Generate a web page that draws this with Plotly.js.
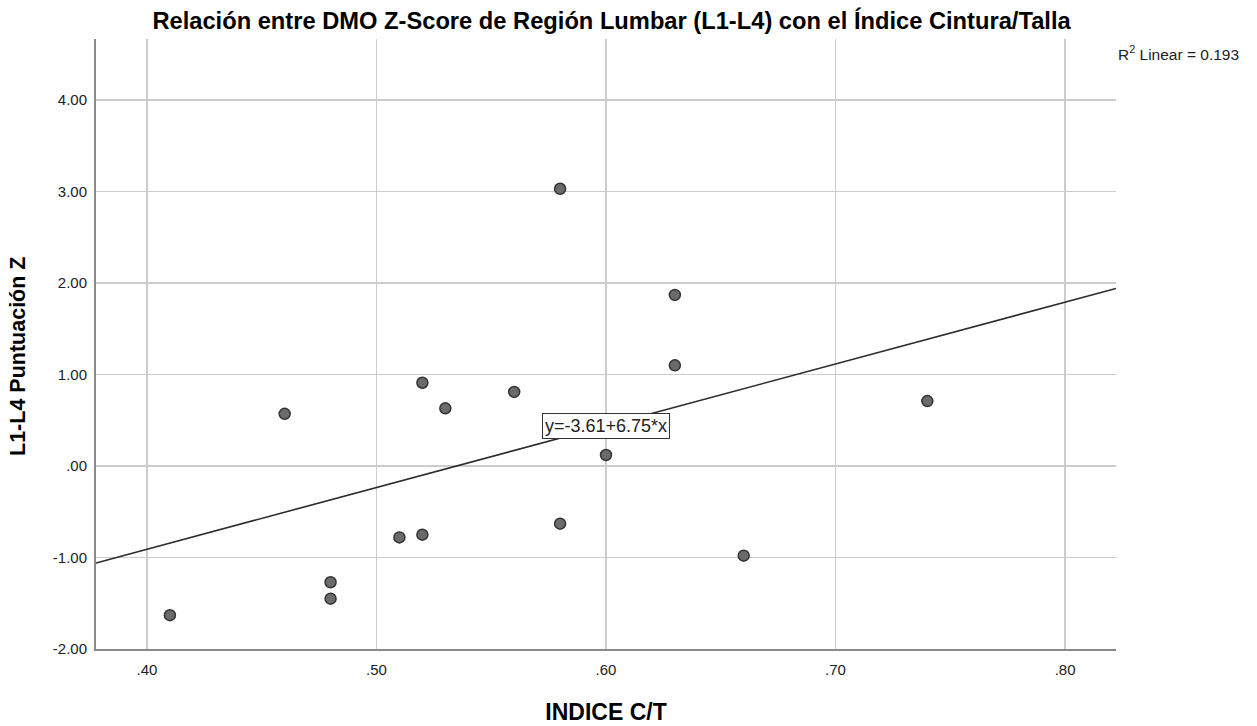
<!DOCTYPE html>
<html>
<head>
<meta charset="utf-8">
<script src="https://cdn.plot.ly/plotly-3.0.1.min.js"></script>
<style>html,body{margin:0;padding:0;background:#fff;}#chart{width:1257px;height:726px;}</style>
</head>
<body>
<div id="chart"></div>
<script>
// Data
const indiceCT = [0.41, 0.46, 0.48, 0.48, 0.51, 0.52, 0.52, 0.53, 0.56, 0.58, 0.58, 0.60, 0.63, 0.63, 0.66, 0.74];
const puntuacionZ = [-1.63, 0.57, -1.27, -1.45, -0.78, -0.75, 0.91, 0.63, 0.81, 3.03, -0.63, 0.12, 1.87, 1.10, -0.98, 0.71];
const fitIntercept = -3.61;
const fitSlope = 6.75;
const rSquared = 0.193;
const xTickVals = [0.40, 0.50, 0.60, 0.70, 0.80];
const xTickText = ['.40', '.50', '.60', '.70', '.80'];
const yTickVals = [-2, -1, 0, 1, 2, 3, 4];
const yTickText = ['-2.00', '-1.00', '.00', '1.00', '2.00', '3.00', '4.00'];

const xRange = [0.3778, 0.8222];
const yRange = [-2, 4.667];
const fitX = xRange.slice();
const fitY = fitX.map(x => fitIntercept + fitSlope * x);

const font = 'Liberation Sans, Arial, sans-serif';

const traces = [
  {
    x: fitX, y: fitY, mode: 'lines', type: 'scatter',
    line: {color: '#2b2b2b', width: 1.6}, hoverinfo: 'skip', showlegend: false
  },
  {
    x: indiceCT, y: puntuacionZ, mode: 'markers', type: 'scatter',
    marker: {size: 11, color: '#6b6b6b', line: {color: '#333333', width: 1.5}},
    showlegend: false
  }
];

const layout = {
  width: 1257, height: 726,
  margin: {l: 96, r: 141, t: 39, b: 77},
  paper_bgcolor: '#ffffff', plot_bgcolor: '#ffffff',
  font: {family: font, color: '#222222', size: 15},
  title: {
    text: 'Relación entre DMO Z-Score de Región Lumbar (L1-L4) con el Índice Cintura/Talla',
    font: {family: font, size: 23.7, color: '#000000', weight: 'bold'},
    x: 0.4865, xref: 'container', y: 0.972, yref: 'container', xanchor: 'center', yanchor: 'middle'
  },
  xaxis: {
    range: xRange, tickvals: xTickVals, ticktext: xTickText,
    showgrid: true, gridcolor: '#cccccc', gridwidth: 1.5,
    showline: true, linecolor: '#8a8a8a', linewidth: 2, mirror: false,
    zeroline: false, ticks: '', tickfont: {size: 15, color: '#222'},
    ticklabelstandoff: 6,
    title: {text: 'INDICE C/T', font: {family: font, size: 23, color: '#000', weight: 'bold'}, standoff: 27}
  },
  yaxis: {
    range: yRange, tickvals: yTickVals, ticktext: yTickText,
    showgrid: true, gridcolor: '#cccccc', gridwidth: 1.5,
    showline: true, linecolor: '#8a8a8a', linewidth: 2,
    zeroline: false, ticks: '', tickfont: {size: 15, color: '#222'},
    ticklabelstandoff: 4
  },
  annotations: [
    {
      x: 18, y: 357, xref: 'paper', yref: 'paper',
      text: 'L1-L4 Puntuación Z', textangle: -90, showarrow: false,
      font: {family: font, size: 21.5, color: '#000', weight: 'bold'},
      xanchor: 'center', yanchor: 'middle'
    },
    {
      x: 0.6, y: fitIntercept + fitSlope * 0.6, xref: 'x', yref: 'y',
      text: 'y=-3.61+6.75*x', showarrow: false,
      font: {family: font, size: 18, color: '#222'},
      bgcolor: '#ffffff', bordercolor: '#333333', borderwidth: 1, borderpad: 2
    },
    {
      x: 1.0, y: 1.0, xref: 'paper', yref: 'paper', xanchor: 'left', yanchor: 'top',
      xshift: 0, yshift: -2,
      text: 'R<sup>2</sup> Linear = ' + rSquared.toFixed(3), showarrow: false,
      font: {family: font, size: 15.5, color: '#222'}
    }
  ]
};
// y-title annotation is positioned in pixels: convert to paper coords
const plotW = layout.width - layout.margin.l - layout.margin.r;
const plotH = layout.height - layout.margin.t - layout.margin.b;
const yt = layout.annotations[0];
yt.x = (yt.x - layout.margin.l) / plotW;
yt.y = (layout.height - layout.margin.b - yt.y) / plotH;

Plotly.newPlot('chart', traces, layout, {displayModeBar: false, staticPlot: true});
</script>
</body>
</html>
